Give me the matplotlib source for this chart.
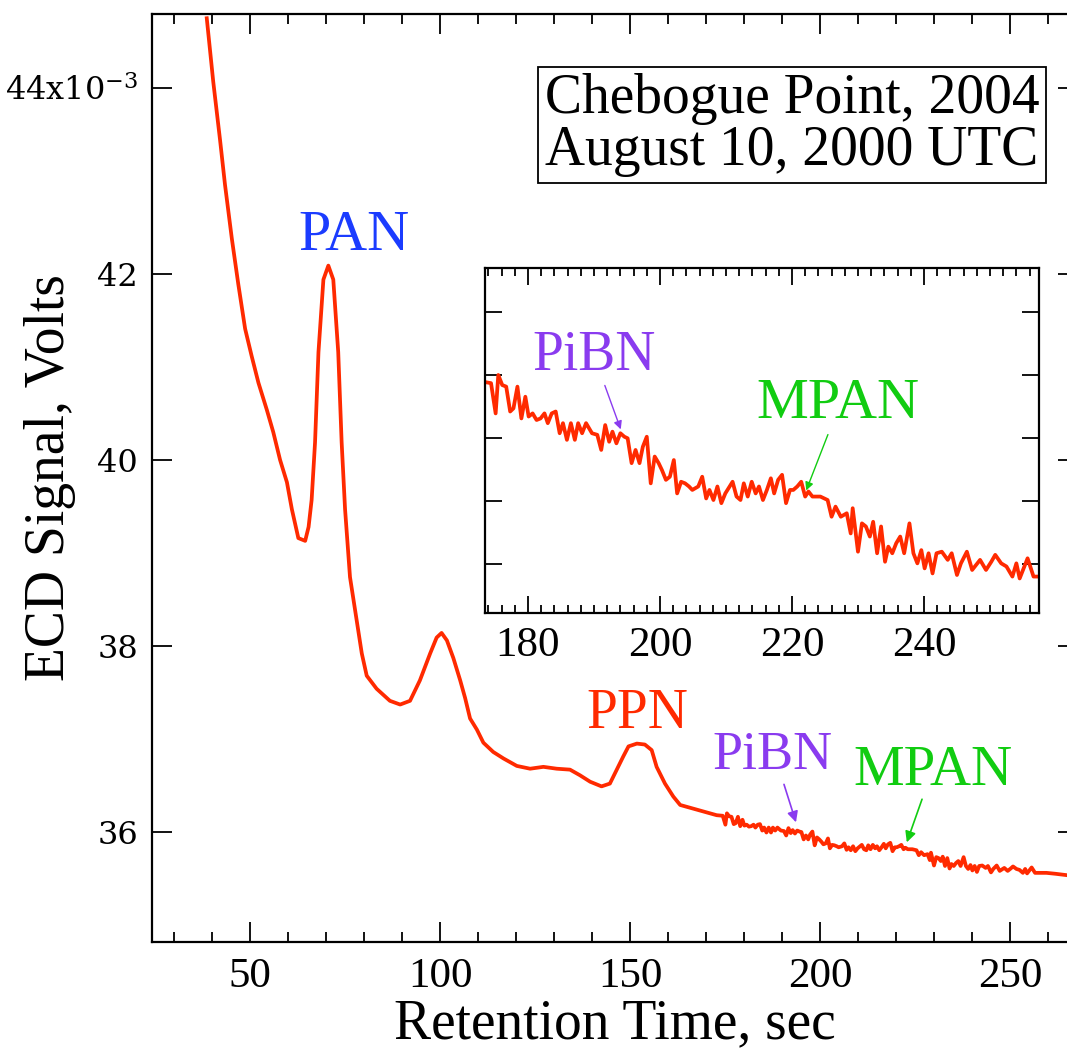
"""ECD chromatogram, Chebogue Point 2004, with a zoomed inset."""
import matplotlib
matplotlib.use("Agg")
import matplotlib.pyplot as plt
import numpy as np
from matplotlib.ticker import FuncFormatter, MultipleLocator, NullLocator

plt.rcParams["font.family"] = ["Liberation Serif", "DejaVu Serif"]
plt.rcParams["mathtext.fontset"] = "dejavuserif"

# retention time (s) and ECD signal (mV)
time_s = [
    38.6, 40.3, 42.1, 43.4, 45.2, 46.9, 48.7, 50.4, 52.2, 54.4, 56.1, 57.9, 59.7,
    61.0, 62.7, 64.5, 65.4, 66.2, 67.1, 68.0, 69.3, 70.6, 71.9, 73.2, 74.1, 75.0,
    76.3, 78.1, 79.4, 80.7, 83.3, 86.8, 89.5, 92.1, 94.7, 97.4, 99.1, 100.4,
    101.8, 103.5, 105.3, 106.6, 107.9, 109.7, 111.4, 114.0, 116.7, 120.2, 123.7,
    127.2, 130.7, 134.2, 136.8, 139.5, 142.5, 144.7, 146.5, 148.2, 149.6, 151.8,
    153.9, 155.7, 157.0, 159.2, 161.4, 163.2, 167.6, 172.8,
    174.4, 175.1, 175.5, 176.1, 176.7, 177.3, 177.8, 178.4, 179.0, 179.6, 180.1,
    180.7, 181.3, 181.9, 182.5, 183.0, 183.6, 184.2, 184.8, 185.3, 185.9, 186.5,
    187.1, 187.6, 188.2, 188.8, 189.7, 190.5, 191.1, 191.7, 192.3, 192.8, 193.4,
    194.0, 194.6, 195.1, 195.7, 196.3, 196.9, 197.4, 198.0, 198.6, 199.2, 199.8,
    200.3, 200.9, 201.5, 202.1, 202.6, 203.2, 203.8, 204.4, 204.9, 205.8, 206.4,
    207.0, 207.5, 208.1, 208.7, 209.3, 209.9, 211.0, 211.6, 212.2, 212.7, 213.3,
    213.9, 214.5, 215.0, 215.6, 216.2, 216.8, 217.3, 217.9, 218.5, 219.1, 219.7,
    220.2, 220.8, 221.4, 222.0, 222.5, 223.1, 224.3, 225.4, 226.0, 226.6, 227.4,
    228.3, 228.9, 229.2, 230.0, 230.6, 231.2, 231.8, 232.3, 232.9, 233.5, 234.1,
    234.6, 235.2, 235.8, 236.4, 237.0, 237.8, 238.4, 239.0, 239.6, 240.1, 240.7,
    241.3, 241.9, 242.7, 243.6, 244.2, 245.0, 245.6, 246.5, 247.3, 248.5, 249.4,
    250.2, 250.8, 251.7, 252.5, 253.4, 254.0, 254.5, 255.1, 255.7, 256.6,
    259.6, 262.0, 264.0, 266.0,
]
signal_mv = [
    44.75, 44.07, 43.44, 42.96, 42.38, 41.89, 41.41, 41.12, 40.83, 40.54, 40.30,
    40.00, 39.76, 39.47, 39.16, 39.13, 39.28, 39.57, 40.19, 41.16, 41.94, 42.09,
    41.94, 41.16, 40.19, 39.47, 38.74, 38.26, 37.92, 37.68, 37.54, 37.41, 37.37,
    37.41, 37.63, 37.92, 38.09, 38.14, 38.06, 37.87, 37.63, 37.44, 37.22, 37.10,
    36.96, 36.86, 36.79, 36.71, 36.68, 36.70, 36.68, 36.67, 36.61, 36.54, 36.49,
    36.52, 36.67, 36.81, 36.92, 36.95, 36.94, 36.88, 36.70, 36.52, 36.38, 36.29,
    36.24, 36.18,
    36.174, 36.078, 36.200, 36.168, 36.163, 36.084, 36.094, 36.163, 36.062,
    36.131, 36.068, 36.078, 36.057, 36.062, 36.078, 36.047, 36.078, 36.084,
    36.015, 36.047, 35.994, 36.047, 35.994, 36.047, 36.015, 36.047, 36.015,
    36.010, 35.962, 36.041, 35.988, 36.020, 35.983, 36.015, 36.004, 35.999,
    35.920, 35.962, 35.920, 35.972, 36.004, 35.856, 35.941, 35.920,
    35.898, 35.867, 35.877, 35.930, 35.824, 35.861, 35.856, 35.846, 35.835,
    35.846, 35.877, 35.808, 35.835, 35.803, 35.846, 35.793, 35.824,
    35.861, 35.814, 35.803, 35.856, 35.814, 35.861, 35.824, 35.846, 35.803,
    35.835, 35.872, 35.824, 35.867, 35.883, 35.793, 35.835, 35.835, 35.846,
    35.861, 35.814, 35.830, 35.814, 35.814, 35.803, 35.750, 35.782, 35.750,
    35.761, 35.697, 35.777, 35.639, 35.729, 35.719, 35.687, 35.734, 35.634,
    35.719, 35.607, 35.655, 35.634, 35.666, 35.687, 35.634, 35.729, 35.634,
    35.602, 35.644, 35.586, 35.634, 35.570, 35.634, 35.639, 35.613, 35.634,
    35.565, 35.602, 35.639, 35.581, 35.613, 35.581, 35.607, 35.629, 35.602,
    35.592, 35.560, 35.602, 35.554, 35.586, 35.618, 35.560,
    35.56, 35.55, 35.54, 35.53,
]

LINE = "#ff2a00"
BLUE = "#1b3cff"
PURPLE = "#8a3bef"
GREEN = "#11cc11"

t = np.array(time_s)
v = np.array(signal_mv) * 1e-3

fig = plt.figure(figsize=(10.67, 10.5), dpi=100)
ax = fig.add_axes([0.1425, 0.1029, 0.8678, 0.8838])
ax.plot(t, v, color=LINE, lw=2.7)
ax.set_xlim(24.2, 267.9)
ax.set_ylim(34.817e-3, 44.796e-3)

ax.xaxis.set_major_locator(MultipleLocator(50))
ax.xaxis.set_minor_locator(MultipleLocator(10))
ax.yaxis.set_major_locator(MultipleLocator(2e-3))
ax.yaxis.set_minor_locator(NullLocator())


def ylabel_fmt(val, pos):
    mv = int(round(val * 1e3))
    if mv == 44:
        return r"44x10$^{-3}$"
    return str(mv)


ax.yaxis.set_major_formatter(FuncFormatter(ylabel_fmt))
ax.tick_params(which="both", direction="in", top=True, right=True, width=1.3)
ax.tick_params(which="major", length=14.4)
ax.tick_params(which="minor", length=7.2)
ax.tick_params(axis="x", labelsize=31, pad=11)
ax.tick_params(axis="y", labelsize=23, pad=10)
for lab in ax.get_yticklabels():
    lab.set_fontfamily("DejaVu Serif")
for sp in ax.spines.values():
    sp.set_linewidth(1.6)
ax.set_xlabel("Retention Time, sec", fontsize=40, labelpad=2)
ax.set_ylabel("ECD Signal, Volts", fontsize=40)
ax.yaxis.set_label_coords(-0.082, 0.5)

ax.text(77.4, 42.26e-3, "PAN", color=BLUE, fontsize=42, ha="center", va="baseline")
ax.text(151.8, 37.12e-3, "PPN", color=LINE, fontsize=40, ha="center", va="baseline")
ax.text(187.4, 36.68e-3, "PiBN", color=PURPLE, fontsize=39, ha="center", va="baseline")
ax.text(229.8, 36.51e-3, "MPAN", color=GREEN, fontsize=41, ha="center", va="baseline")
ax.annotate("", xy=(193.9, 36.075e-3), xytext=(190.3, 36.54e-3),
            arrowprops=dict(arrowstyle="-|>", color=PURPLE, lw=1.2, mutation_scale=16))
ax.annotate("", xy=(222.6, 35.86e-3), xytext=(227.1, 36.38e-3),
            arrowprops=dict(arrowstyle="-|>", color=GREEN, lw=1.2, mutation_scale=16))

fig.text(0.7423, 0.881, "Chebogue Point, 2004\nAugust 10, 2000 UTC", fontsize=40,
         ha="center", va="center", linespacing=0.98,
         bbox=dict(boxstyle="square,pad=0.12", fc="white", ec="black", lw=1.3))

# inset
ins = fig.add_axes([0.4545, 0.4162, 0.5192, 0.3286])
ins.plot(t, v, color=LINE, lw=2.7)
ins.set_xlim(173.48, 257.42)
ins.set_ylim(35.4444e-3, 36.5397e-3)
ins.xaxis.set_major_locator(MultipleLocator(20))
ins.xaxis.set_minor_locator(MultipleLocator(2))
ins.yaxis.set_major_locator(MultipleLocator(0.2e-3))
ins.yaxis.set_minor_locator(NullLocator())
ins.tick_params(which="both", direction="in", top=True, right=True, width=1.3,
                labelleft=False)
ins.tick_params(which="major", length=12)
ins.tick_params(which="minor", length=6)
ins.tick_params(axis="x", labelsize=31, pad=10)
for sp in ins.spines.values():
    sp.set_linewidth(1.6)

ins.text(190.0, 36.216e-3, "PiBN", color=PURPLE, fontsize=40, ha="center", va="baseline")
ins.text(227.0, 36.063e-3, "MPAN", color=GREEN, fontsize=42, ha="center", va="baseline")
ins.annotate("", xy=(194.2, 36.019e-3), xytext=(191.5, 36.175e-3),
             arrowprops=dict(arrowstyle="-|>", color=PURPLE, lw=1.0, mutation_scale=12))
ins.annotate("", xy=(222.0, 35.825e-3), xytext=(225.6, 36.019e-3),
             arrowprops=dict(arrowstyle="-|>", color=GREEN, lw=1.0, mutation_scale=12))

fig.savefig("out.png", dpi=100)
